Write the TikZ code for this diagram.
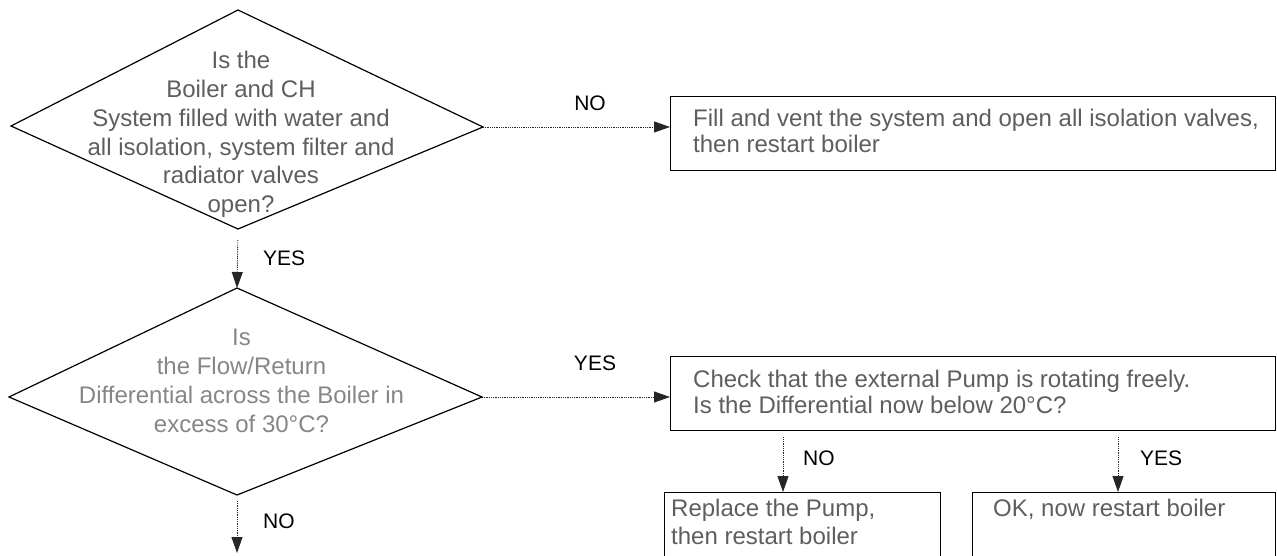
\documentclass[tikz,border=0pt]{standalone}
\usepackage{fontspec}
\setmainfont{Liberation Sans}
\usetikzlibrary{arrows.meta,calc}
\definecolor{txt}{HTML}{5E5E5E}
\definecolor{txtlight}{HTML}{868686}
\begin{document}
\begin{tikzpicture}[x=1pt,y=-1pt,
  boxnode/.style={draw=black, line width=1.2pt, rectangle, inner sep=0pt, anchor=north west},
  btext/.style={text=txt, font=\fontsize{24}{26}\selectfont, align=left, inner sep=0pt},
  dtext/.style={font=\fontsize{24}{28.8}\selectfont, align=center, inner sep=0pt},
  dia/.style={draw=black, line width=1.2pt, line join=miter},
  lab/.style={font=\fontsize{21}{24}\selectfont, text=black, inner sep=0pt},
  conn/.style={draw=black!85, line width=0.9pt, dash pattern=on 0.9pt off 0.9pt,
    -{Triangle[length=16pt,width=11pt]}},
]
\useasboundingbox (0,0) rectangle (1277,556);
\clip (0,0) rectangle (1277,556);

% decision 1
\coordinate (d1n) at (238,10);
\coordinate (d1e) at (483,127);
\coordinate (d1s) at (238,229);
\coordinate (d1w) at (11,126);
\draw[dia] (d1n) -- (d1e) -- (d1s) -- (d1w) -- cycle;
\node[dtext, text=txt] (q1) at (241,134.5) {Is the\\Boiler and CH\\System filled with water and\\all isolation, system filter and\\radiator valves\\open?};

% decision 2
\coordinate (d2n) at (237,288);
\coordinate (d2e) at (482,397);
\coordinate (d2s) at (237,495);
\coordinate (d2w) at (9,397);
\draw[dia] (d2n) -- (d2e) -- (d2s) -- (d2w) -- cycle;
\node[dtext, text=txtlight] (q2) at (241.5,381) {Is\\the Flow/Return\\Differential across the Boiler in\\excess of 30°C?};

% boxes
\node[boxnode, minimum width=605pt, minimum height=74pt] (b1) at (670,96) {};
\node[btext, anchor=west] (t1) at (693,131) {Fill and vent the system and open all isolation valves,\\then restart boiler};

\node[boxnode, minimum width=605pt, minimum height=74pt] (b2) at (670,356) {};
\node[btext, anchor=west] (t2) at (693,392) {Check that the external Pump is rotating freely.\\Is the Differential now below 20°C?};

\node[boxnode, minimum width=276pt, minimum height=90pt] (b3) at (664,492) {};
\node[btext, anchor=west, font=\fontsize{24}{28}\selectfont] (t3) at (671,522) {Replace the Pump,\\then restart boiler};

\node[boxnode, minimum width=303pt, minimum height=90pt] (b4) at (972,492) {};
\node[btext, anchor=base west] (t4) at (993,516.6) {OK, now restart boiler};

% connectors
\coordinate (x1) at (783,0);
\coordinate (x2) at (1118,0);
\coordinate (end) at (237,553);
\draw[conn] (d1e) -- (d1e -| b1.west);
\draw[conn, shorten <=11pt] (d1s) -- (d2n);
\draw[conn] (d2e) -- (d2e -| b2.west);
\draw[conn, shorten <=6pt] (d2s) -- (end);
\draw[conn, shorten <=6pt] (b2.south -| x1) -- (b3.north -| x1);
\draw[conn, shorten <=6pt] (b2.south -| x2) -- (b4.north -| x2);

% labels
\node[lab] (l1) at (590,103) {NO};
\node[lab] (l2) at (595,363) {YES};
\node[lab, anchor=west] (l3) at (263,258) {YES};
\node[lab, anchor=west] (l4) at (263,521) {NO};
\node[lab, anchor=west] (l5) at (803,458) {NO};
\node[lab, anchor=west] (l6) at (1140,458) {YES};
\end{tikzpicture}
\end{document}
